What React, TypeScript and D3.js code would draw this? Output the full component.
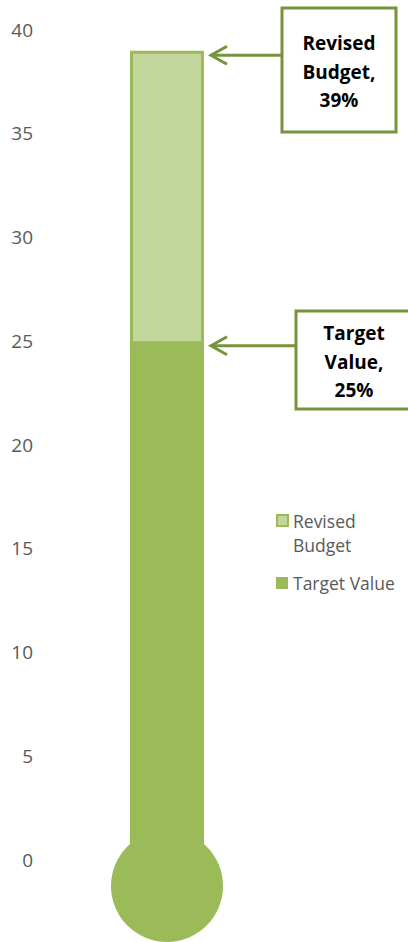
import React from "react";
import * as d3 from "d3";

const categories = ["Revised Budget", "Target Value"];
const values = [39, 25];
const tickValues = [0, 5, 10, 15, 20, 25, 30, 35, 40];
const calloutLines = [
  ["Revised", "Budget,", "39%"],
  ["Target", "Value,", "25%"],
];
const legendLabels = [["Revised", "Budget"], ["Target Value"]];

const W = 408;
const H = 942;
const FILL_LIGHT = "#C3D69B";
const FILL = "#9BBB59";
const CALLOUT = "#77933C";
const TEXT = "#595959";

export default function App() {
  const y = d3.scaleLinear().domain([0, 40]).range([860, 30]);
  const x = d3.scaleBand().domain(["bar"]).range([93, 241]).paddingInner(0).paddingOuter(0.5);
  const bx = x("bar")!;
  const bw = x.bandwidth();
  const cx = bx + bw / 2;
  const bulbY = 886;
  const bulbR = 56;

  const boxes = [
    { x: 282, y: 8, w: 114, h: 124, tx: 339, ty: 50 },
    { x: 296, y: 311, w: 114, h: 98, tx: 354, ty: 340 },
  ];

  return (
    <svg
      width={W}
      height={H}
      style={{ position: "absolute", left: 0, top: 0, display: "block" }}
      fontFamily="'Open Sans', sans-serif"
    >
      <rect width={W} height={H} fill="#fff" />
      {tickValues.map((t) => (
        <text key={t} x={33} y={y(t)} dy="0.35em" textAnchor="end" fontSize={19} fill={TEXT}>
          {t}
        </text>
      ))}
      {/* Revised budget bar */}
      <rect
        x={bx + 1.5}
        y={y(values[0]) + 1.5}
        width={bw - 3}
        height={y(0) - y(values[0])}
        fill={FILL_LIGHT}
        stroke={FILL}
        strokeWidth={3}
      />
      {/* Target value bar (stem down into bulb) */}
      <rect x={bx} y={y(values[1])} width={bw} height={bulbY - y(values[1])} fill={FILL} />
      <ellipse cx={cx} cy={bulbY} rx={bulbR} ry={bulbR} fill={FILL} />

      {/* Callouts */}
      {values.map((v, i) => {
        const b = boxes[i];
        const ay = y(v) + 4.5;
        const tip = bx + bw + 7;
        return (
          <g key={categories[i]}>
            <line x1={b.x} y1={ay} x2={tip + 1} y2={ay} stroke={CALLOUT} strokeWidth={3} />
            <polyline
              points={`${tip + 16},${ay - 9} ${tip},${ay} ${tip + 16},${ay + 9}`}
              fill="none"
              stroke={CALLOUT}
              strokeWidth={3}
            />
            <rect x={b.x} y={b.y} width={b.w} height={b.h} fill="#fff" stroke={CALLOUT} strokeWidth={3} />
            {calloutLines[i].map((ln, j) => (
              <text
                key={j}
                x={b.tx}
                y={b.ty + j * 28.5}
                textAnchor="middle"
                fontSize={19}
                fontWeight="bold"
                fill="#000"
              >
                {ln}
              </text>
            ))}
          </g>
        );
      })}

      {/* Legend */}
      <g>
        <rect x={277} y={515} width={11} height={11} fill={FILL_LIGHT} stroke={FILL} strokeWidth={2} />
        {legendLabels[0].map((ln, j) => (
          <text key={j} x={293} y={528 + j * 24} fontSize={17.5} fill={TEXT}>
            {ln}
          </text>
        ))}
        <rect x={276} y={577} width={12} height={12} fill={FILL} />
        <text x={293} y={590} fontSize={17.5} fill={TEXT}>
          {legendLabels[1][0]}
        </text>
      </g>
    </svg>
  );
}
